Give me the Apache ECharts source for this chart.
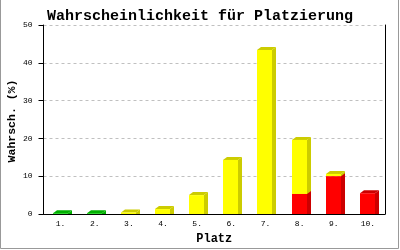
<!DOCTYPE html>
<html><head><meta charset="utf-8">
<script src="https://cdn.jsdelivr.net/npm/echarts@6/dist/echarts.min.js"></script>
<style>html,body{margin:0;padding:0;background:#fff}#c{width:400px;height:250px}</style>
</head><body><div id="c"></div>
<script>
const categories = ['1.','2.','3.','4.','5.','6.','7.','8.','9.','10.'];
const greenValues  = [0.2, 0.2, 0, 0, 0, 0, 0, 0, 0, 0];
const redValues    = [0, 0, 0, 0, 0, 0, 0, 5.3, 10.0, 5.5];
const yellowValues = [0, 0, 0.4, 1.3, 5.0, 14.3, 43.4, 14.3, 0.6, 0];
const yTicks = [0, 10, 20, 30, 40, 50];
const yAxisTitle = 'Wahrsch. (%)';

const seriesDefs = [
  {name:'green', vals: greenValues, front:'#00cc00', dark:'#00b000', z:2},
  {name:'red', vals: redValues, front:'#ff0000', dark:'#cc0000', z:4},
  {name:'yellow', vals: yellowValues, front:'#ffff00', dark:'#cccc00', z:3}
];
const base = categories.map(() => 0);
const built = seriesDefs.map(s => ({...s, data: []}));
built.forEach((s) => {
  s.vals.forEach((v, i) => {
    const lo = base[i], hi = base[i] + v;
    base[i] = hi;
    s.data.push([i, lo, hi, 0]);
  });
});
categories.forEach((c, i) => {
  let topIdx = -1;
  built.forEach((s, si) => { if (s.vals[i] > 0) { if (topIdx < 0 || s.data[i][2] >= built[topIdx].data[i][2]) topIdx = si; } });
  if (topIdx >= 0) built[topIdx].data[i][3] = 1;
});

function makeRender(front, dark) {
  return function (params, api) {
    const lo = api.value(1), hi = api.value(2), isTop = api.value(3);
    if (hi - lo <= 0) return null;
    const pT = api.coord([api.value(0), hi]);
    const pB = api.coord([api.value(0), lo]);
    const w = 15, d = 4, dy = 3;
    const x0 = Math.round(pT[0] - 8);
    const yT = pT[1], yB = pB[1];
    const ch = [];
    ch.push({type:'polygon', shape:{points:[[x0+w,yT],[x0+w+d,yT-dy],[x0+w+d,yB],[x0+w,yB]]}, style:{fill:dark}});
    if (isTop) ch.push({type:'polygon', shape:{points:[[x0,yT],[x0+d,yT-dy],[x0+w+d,yT-dy],[x0+w,yT]]}, style:{fill:dark}});
    ch.push({type:'rect', shape:{x:x0, y:yT, width:w, height:Math.max(yB-yT, 0.8)}, style:{fill:front}});
    return {type:'group', children: ch};
  };
}

const mono = "'Liberation Mono', 'DejaVu Sans Mono', monospace";
const chart = echarts.init(document.getElementById('c'), null, {renderer:'canvas'});
chart.setOption({
  animation: false,
  backgroundColor: '#ffffff',
  title: {text:'Wahrscheinlichkeit für Platzierung', left:'center', top:4,
    textStyle:{fontFamily:mono, fontWeight:'bold', fontSize:15, color:'#000'}},
  grid: {left:43.5, right:15, top:25, bottom:36, containLabel:false, outerBoundsMode:'none'},
  xAxis: {type:'category', data:categories, boundaryGap:true,
    name:'Platz', nameLocation:'middle', nameGap:19, nameMoveOverlap:false,
    nameTextStyle:{fontFamily:mono, fontWeight:'bold', fontSize:12, color:'#000'},
    axisLine:{show:true, lineStyle:{color:'#000', width:1}},
    axisTick:{show:false},
    axisLabel:{fontFamily:mono, fontSize:8, color:'#000', margin:6}},
  yAxis: [{type:'value', min:0, max:50, interval:10,
    axisLine:{show:true, lineStyle:{color:'#000', width:1}},
    axisTick:{show:true, length:5, inside:false, lineStyle:{color:'#000'}},
    axisLabel:{fontFamily:mono, fontSize:8, color:'#000', margin:11,
      formatter: v => yTicks.includes(v) ? String(v) : ''},
    splitLine:{show:true, lineStyle:{color:'#c0c0c0', type:[3,3], width:1}}},
    {type:'value', min:0, max:50, interval:10, position:'right',
    axisLine:{show:true, lineStyle:{color:'#000', width:1}},
    axisTick:{show:false}, axisLabel:{show:false}, splitLine:{show:false}}],
  graphic: [
    {type:'rect', shape:{x:0.5, y:-5, width:398, height:253.5},
      style:{fill:'none', stroke:'#999999', lineWidth:1}, silent:true},
    {type:'text', x:12.5, y:121, rotation:Math.PI/2,
      style:{text:yAxisTitle, fontFamily:mono, fontWeight:'bold', fontSize:11.5, fill:'#000',
        align:'center', verticalAlign:'middle'}, silent:true}
  ],
  series: built.map(s => ({
    type:'custom', name:s.name, z:s.z,
    renderItem: makeRender(s.front, s.dark),
    encode:{x:0, y:[1,2]},
    data: s.data
  }))
});
</script></body></html>
